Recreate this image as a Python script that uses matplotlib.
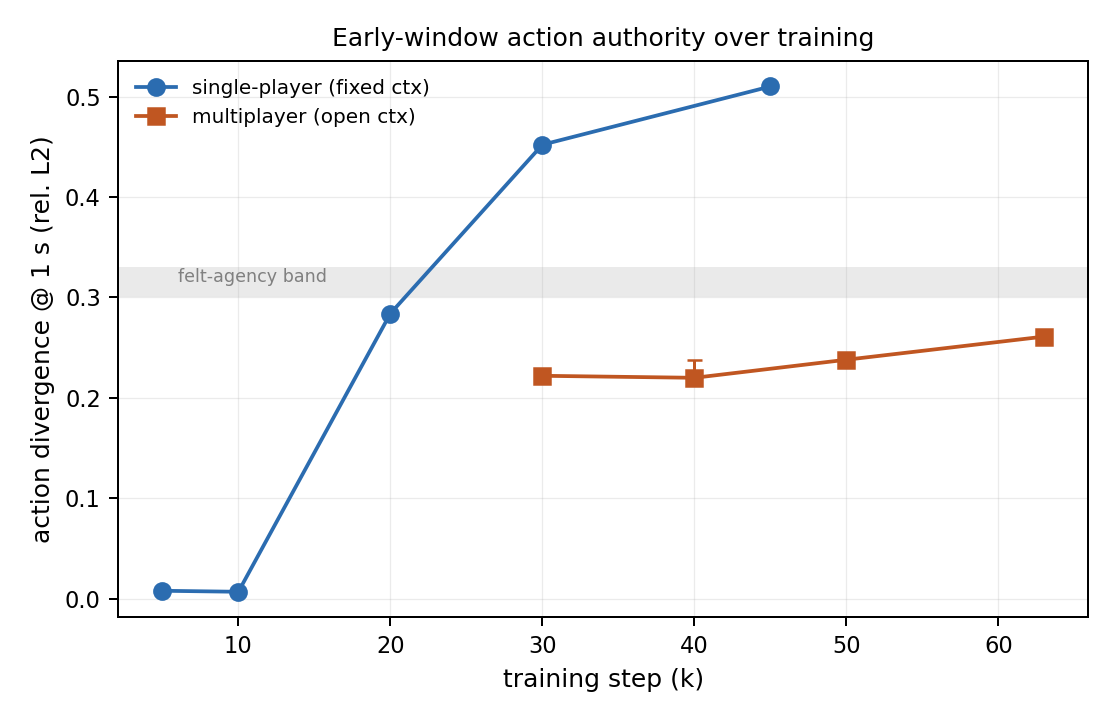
import matplotlib
matplotlib.use("Agg")
import matplotlib.pyplot as plt

single_steps = [5, 10, 20, 30, 45]
single_vals = [0.008, 0.007, 0.284, 0.452, 0.510]

multi_steps = [30, 40, 50, 63]
multi_vals = [0.222, 0.220, 0.238, 0.261]
multi_err_lo = [0.0, 0.0, 0.0, 0.0]
multi_err_hi = [0.0, 0.018, 0.0, 0.0]

band_lo, band_hi = 0.30, 0.33
band_label = "felt-agency band"

fig, ax = plt.subplots(figsize=(6.2, 4), dpi=180)
ax.axhspan(band_lo, band_hi, color="#e0e0e0", alpha=0.65, lw=0, zorder=0)
ax.text(6, 0.311, band_label, fontsize=7, color="gray", va="bottom")

ax.plot(single_steps, single_vals, color="#2b6cb0", marker="o",
        ms=6.5, lw=1.5, label="single-player (fixed ctx)")
ax.errorbar(multi_steps, multi_vals, yerr=[multi_err_lo, multi_err_hi], color="#c05621",
            fmt="none", lw=1.2, capsize=3)
ax.plot(multi_steps, multi_vals, color="#c05621", marker="s",
        ms=6.5, lw=1.5, label="multiplayer (open ctx)")

ax.grid(True, alpha=0.25, lw=0.5)
ax.set_xlabel("training step (k)", fontsize=10)
ax.set_ylabel("action divergence @ 1 s (rel. L2)", fontsize=10)
ax.set_title("Early-window action authority over training", fontsize=10)
ax.tick_params(labelsize=9)
ax.legend(loc="upper left", fontsize=8, frameon=False)
fig.subplots_adjust(left=0.106, right=0.975, top=0.915, bottom=0.143)
fig.savefig("out.png", dpi=180)
